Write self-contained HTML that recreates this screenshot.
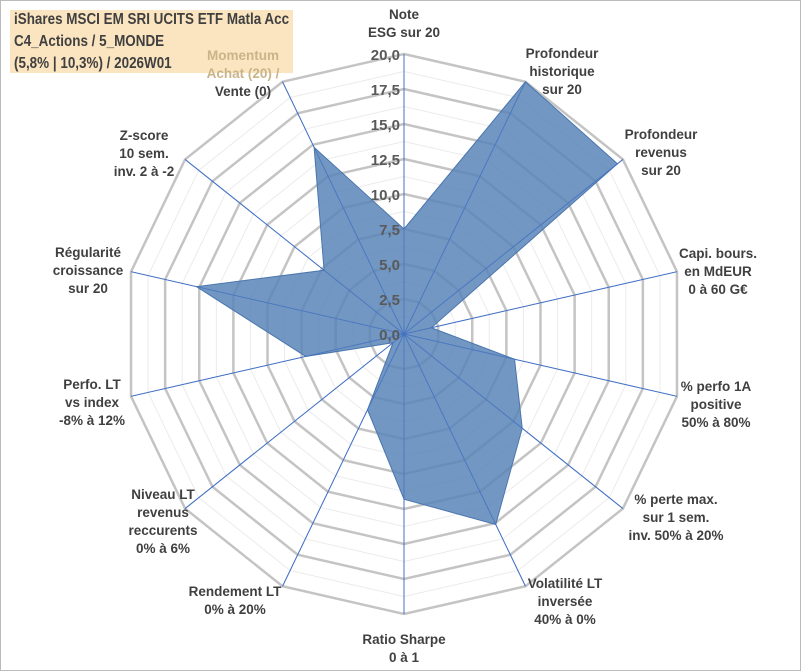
<!DOCTYPE html>
<html><head><meta charset="utf-8"><style>
body{margin:0;background:#fff;font-family:"Liberation Sans",sans-serif}
#wrap{position:relative;width:801px;height:671px;border:1px solid #bbb;box-sizing:border-box;overflow:hidden}
#title{position:absolute;left:9px;top:9px;width:283px;height:63px;background:#fbe5c0;}
#title div{position:absolute;left:4px;white-space:nowrap;color:#404040;font-size:16px;font-weight:bold;transform-origin:0 0;transform:scaleX(0.84);font-family:"Liberation Sans",sans-serif}
</style></head><body>
<div id="wrap">
<div id="title">
<div style="top:1px">iShares MSCI EM SRI UCITS ETF Matla Acc</div>
<div style="top:23px">C4_Actions / 5_MONDE</div>
<div style="top:45px">(5,8% | 10,3%) / 2026W01</div>
</div>
<svg id="svg" width="801" height="671" style="position:absolute;left:0;top:0"></svg>
</div>
<script>
const categories=[["Note","ESG sur 20"],["Profondeur","historique","sur 20"],["Profondeur","revenus","sur 20"],["Capi. bours.","en MdEUR","0 à 60 G€"],["% perfo 1A","positive","50% à 80%"],["% perte max.","sur 1 sem.","inv. 50% à 20%"],["Volatilité LT","inversée","40% à 0%"],["Ratio Sharpe","0 à 1"],["Rendement LT","0% à 20%"],["Niveau LT","revenus","reccurents","0% à 6%"],["Perfo. LT","vs index","-8% à 12%"],["Régularité","croissance","sur 20"],["Z-score","10 sem.","inv. 2 à -2"],["Momentum","Achat (20) /","Vente (0)"]];
const values=[7.5,20,19.5,2,8.1,10.8,15.1,11.8,6,1,7.2,15.2,7.3,14.8];
const tickLabels=["0,0","2,5","5,0","7,5","10,0","12,5","15,0","17,5","20,0"];
const maxVal=20;
// label layout (center x, first-line center y)
const labelPos=[[403,13],[561,52],[660,133],[717,252],[715,385],[675,498],[564,582],[403,638],[234,590],[162,493],[91,383],[87,251],[143,134],[242,54]];
const svg=document.getElementById('svg');const NS="http://www.w3.org/2000/svg";
const cx=403,cy=333,R=280,n=categories.length;
function pt(i,v){const a=i*2*Math.PI/n;const r=v/maxVal*R;return [cx+r*Math.sin(a),cy-r*Math.cos(a)];}
function mk(t,at){const e=document.createElementNS(NS,t);for(const k in at)e.setAttribute(k,at[k]);svg.appendChild(e);return e;}
for(let k=1;k<=16;k++){const v=k*1.25;const ps=[];for(let i=0;i<n;i++)ps.push(pt(i,v).join(','));
const e=mk('polygon',{points:ps.join(' '),fill:'none',stroke:k%2?'#ebebeb':'#c4c4c4','stroke-width':k%2?1:2.5});

}
for(let i=0;i<n;i++){const p=pt(i,maxVal);const e=mk('line',{x1:cx,y1:cy,x2:p[0],y2:p[1],stroke:'#4472c4','stroke-width':1});

}
const ps=values.map((v,i)=>pt(i,v).join(','));
const poly=mk('polygon',{points:ps.join(' '),fill:'#5b85b8','fill-opacity':0.85,stroke:'#4a76ae','stroke-width':1});


for(let i=0;i<n;i++){const p=pt(i,maxVal);const e=mk('line',{x1:cx,y1:cy,x2:p[0],y2:p[1],stroke:'#4472c4','stroke-width':0.8,'stroke-opacity':0.7});

}
tickLabels.forEach((t,k)=>{const y=cy-k*2.5/maxVal*R;const e=mk('text',{x:cx-4,y:y+6,'text-anchor':'end','font-size':15,'font-weight':'bold',fill:'#595959'});e.textContent=t;

});
categories.forEach((lines,i)=>{const [x,y0]=labelPos[i];
const e=mk('text',{x:x,y:y0+5,'text-anchor':'middle','font-size':13.5,'font-weight':'bold',fill:'#404040'});


lines.forEach((l,j)=>{const ts=document.createElementNS(NS,'tspan');ts.setAttribute('x',x);ts.setAttribute('y',y0+5+j*18);ts.textContent=l;
if(i===13&&j<2)ts.setAttribute('fill','#c9b48a');e.appendChild(ts);});});
</script>
</body></html>
